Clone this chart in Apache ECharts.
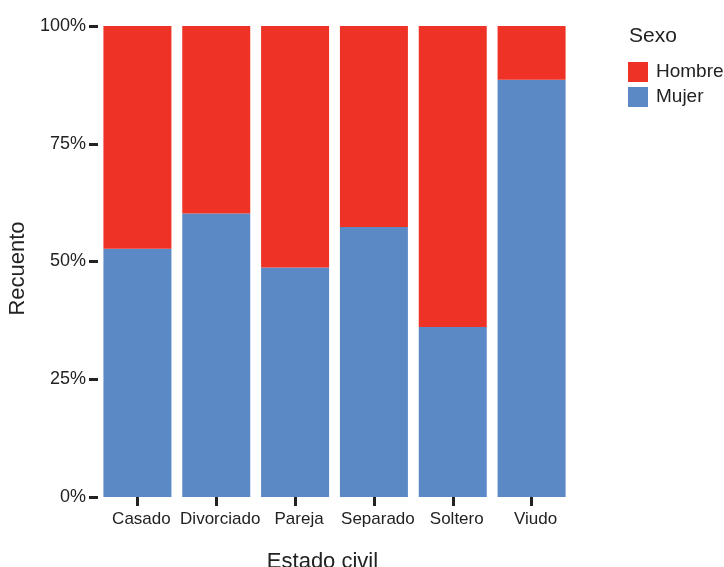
<!DOCTYPE html>
<html><head><meta charset="utf-8">
<script src="https://cdn.jsdelivr.net/npm/echarts@6/dist/echarts.min.js"></script>
<style>html,body{margin:0;padding:0;background:#fff}#c{width:724px;height:567px}</style>
</head><body><div id="c"></div>
<script>
const categories = ['Casado','Divorciado','Pareja','Separado','Soltero','Viudo'];
const mujer = [52.7, 60.2, 48.7, 57.3, 36.1, 88.6];
const hombre = [47.3, 39.8, 51.3, 42.7, 63.9, 11.4];
const yTicks = [0, 25, 50, 75, 100];

const chart = echarts.init(document.getElementById('c'));
const font = 'Liberation Sans, Arial, Helvetica, sans-serif';
const txt = '#222';
chart.setOption({
  animation: false,
  textStyle: {fontFamily: font},
  title: {text: 'Sexo', left: 624, top: 21, textStyle: {fontFamily: font, fontSize: 21, fontWeight: 'normal', color: txt}},
  legend: {
    data: ['Hombre','Mujer'], orient: 'vertical', left: 623, top: 57,
    itemWidth: 20, itemHeight: 20, itemGap: 5, icon: 'rect',
    textStyle: {fontFamily: font, fontSize: 19, color: txt, padding: [0,0,0,3]}
  },
  grid: {left: 98, top: 26, width: 473, height: 471, containLabel: false, outerBoundsMode: 'none'},
  xAxis: {
    type: 'category', data: categories,
    name: 'Estado civil', nameLocation: 'middle', nameGap: 54,
    nameTextStyle: {fontFamily: font, fontSize: 22, color: txt, padding: [0,24,0,0]},
    axisLine: {show: false},
    axisTick: {show: true, alignWithLabel: true, length: 9, lineStyle: {color: '#222', width: 3}},
    axisLabel: {fontFamily: font, fontSize: 17, color: txt, margin: 14, interval: 0, padding: [0,0,0,8]}
  },
  yAxis: {
    type: 'value', min: 0, max: 100, interval: 25,
    name: 'Recuento', nameLocation: 'middle', nameGap: 62,
    nameTextStyle: {fontFamily: font, fontSize: 22, color: txt, padding: [0,14,0,0]},
    axisLine: {show: false},
    splitLine: {show: false},
    axisTick: {show: true, length: 9, lineStyle: {color: '#222', width: 3}},
    axisLabel: {fontFamily: font, fontSize: 18, color: txt, margin: 12,
      formatter: v => yTicks.includes(v) ? v + '%' : ''}
  },
  series: [
    {name: 'Mujer', type: 'bar', stack: 's', data: mujer, barWidth: 68, itemStyle: {color: '#5B89C6'}},
    {name: 'Hombre', type: 'bar', stack: 's', data: hombre, barWidth: 68, itemStyle: {color: '#EE3326'}}
  ]
});
</script></body></html>
